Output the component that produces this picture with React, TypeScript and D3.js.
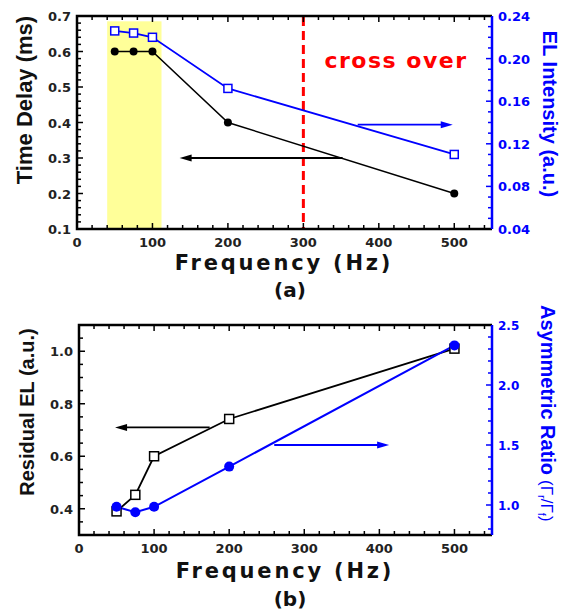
import React from "react";
import * as d3 from "d3";

// panel (a)
const freqA = [50, 75, 100, 200, 500];
const timeDelay = [0.6, 0.6, 0.6, 0.4, 0.2];
const elIntensity = [0.226, 0.224, 0.22, 0.172, 0.11];

// panel (b)
const freqB = [50, 75, 100, 200, 500];
const residualEL = [0.39, 0.453, 0.6, 0.742, 1.01];
const asymRatio = [0.985, 0.94, 0.985, 1.32, 2.33];

const xTicks = [0, 100, 200, 300, 400, 500];
const aLeftTicks = [0.1, 0.2, 0.3, 0.4, 0.5, 0.6, 0.7];
const aRightTicks = [0.04, 0.08, 0.12, 0.16, 0.2, 0.24];
const bLeftTicks = [0.4, 0.6, 0.8, 1.0];
const bRightTicks = [1.0, 1.5, 2.0, 2.5];

const BLUE = "#0000ff";
const tickFont = "'DejaVu Sans', Verdana, sans-serif";
const titleFont = "'Liberation Sans', Arial, sans-serif";

const range = (a: number, b: number, s: number) => d3.range(a, b + s / 2, s);

const Frame = ({ x, yL, yR, minorX, minorL, minorR, leftTicks, rightTicks, leftFmt, rightFmt, rightSize }) => {
  const [x0, x1] = x.range();
  const [yb, yt] = yL.range();
  return (
    <g>
      {/* x ticks on bottom and top, pointing in */}
      {minorX.map((t, i) => {
        const major = Math.abs(t % 100) < 1e-6;
        const len = major ? 6 : 4;
        return (
          <g key={i}>
            <line x1={x(t)} x2={x(t)} y1={yb} y2={yb - len} stroke="black" strokeWidth={1.5} />
            <line x1={x(t)} x2={x(t)} y1={yt} y2={yt + len} stroke="black" strokeWidth={1.5} />
          </g>
        );
      })}
      {minorL.map((t, i) => {
        const major = leftTicks.some(v => Math.abs(v - t) < 1e-6);
        return <line key={i} x1={x0} x2={x0 + (major ? 6 : 4)} y1={yL(t)} y2={yL(t)} stroke="black" strokeWidth={1.5} />;
      })}
      {minorR.map((t, i) => {
        const major = rightTicks.some(v => Math.abs(v - t) < 1e-6);
        return <line key={i} x1={x1} x2={x1 - (major ? 6 : 4)} y1={yR(t)} y2={yR(t)} stroke={BLUE} strokeWidth={1.5} />;
      })}
      <path d={`M${x1},${yt}H${x0}V${yb}H${x1}`} fill="none" stroke="black" strokeWidth={2.5} />
      <line x1={x1} x2={x1} y1={yt} y2={yb} stroke={BLUE} strokeWidth={2.5} />
      {xTicks.map((t, i) => (
        <text key={i} x={x(t)} y={yb + 18} textAnchor="middle" fontFamily={tickFont} fontWeight="bold" fontSize={13} fill="#222">
          {t}
        </text>
      ))}
      {leftTicks.map((t, i) => (
        <text key={i} x={x0 - 6} y={yL(t) + 5} textAnchor="end" fontFamily={tickFont} fontWeight="bold" fontSize={13} fill="#222">
          {leftFmt(t)}
        </text>
      ))}
      {rightTicks.map((t, i) => (
        <text key={i} x={x1 + 6} y={yR(t) + 5} fontFamily={tickFont} fontWeight="bold" fontSize={rightSize} fill={BLUE}>
          {rightFmt(t)}
        </text>
      ))}
    </g>
  );
};

const Arrow = ({ x1, x2, y, color }) => {
  const dir = x2 > x1 ? 1 : -1;
  return (
    <g>
      <line x1={x1} x2={x2 - dir * 8} y1={y} y2={y} stroke={color} strokeWidth={1.8} />
      <path d={`M${x2},${y}L${x2 - dir * 12},${y - 3.5}L${x2 - dir * 12},${y + 3.5}Z`} fill={color} />
    </g>
  );
};

const App = () => {
  // panel (a)
  const xa = d3.scaleLinear().domain([0, 550]).range([77, 492]);
  const yaL = d3.scaleLinear().domain([0.1, 0.7]).range([229, 16]);
  const yaR = d3.scaleLinear().domain([0.04, 0.24]).range([229, 16]);
  const lineTD = d3.line<number>().x((d, i) => xa(freqA[i])).y(d => yaL(d));
  const lineEL = d3.line<number>().x((d, i) => xa(freqA[i])).y(d => yaR(d));

  // panel (b)
  const xb = d3.scaleLinear().domain([0, 550]).range([79, 492]);
  const ybL = d3.scaleLinear().domain([0.3, 1.1]).range([535, 325]);
  const ybR = d3.scaleLinear().domain([0.75, 2.5]).range([535, 325]);
  const lineRes = d3.line<number>().x((d, i) => xb(freqB[i])).y(d => ybL(d));
  const lineAsym = d3.line<number>().x((d, i) => xb(freqB[i])).y(d => ybR(d));

  const xMinor = range(0, 540, 20);

  return (
    <svg width={565} height={611} viewBox="0 0 565 611" style={{ position: "absolute", left: 0, top: 0, background: "white" }}>
      {/* ---------- (a) ---------- */}
      <rect x={xa(40)} y={yaL(0.685)} width={xa(112) - xa(40)} height={yaL(0.1) - yaL(0.685)} fill="#ffff99" />
      <line x1={xa(300)} x2={xa(300)} y1={17} y2={228} stroke="#ff0000" strokeWidth={3} strokeDasharray="9,5" />
      <text x={396} y={68} textAnchor="middle" fontFamily={tickFont} fontWeight="bold" fontSize={22} letterSpacing={1.5} fill="#ff0000">
        cross over
      </text>
      <path d={lineTD(timeDelay)} fill="none" stroke="black" strokeWidth={1.5} />
      <path d={lineEL(elIntensity)} fill="none" stroke={BLUE} strokeWidth={1.8} />
      {timeDelay.map((d, i) => (
        <circle key={i} cx={xa(freqA[i])} cy={yaL(d)} r={4} fill="black" />
      ))}
      {elIntensity.map((d, i) => (
        <rect key={i} x={xa(freqA[i]) - 4} y={yaR(d) - 4} width={8} height={8} fill="white" stroke={BLUE} strokeWidth={1.5} />
      ))}
      <Arrow x1={xa(352)} x2={xa(136)} y={yaL(0.3)} color="black" />
      <Arrow x1={xa(372)} x2={xa(498)} y={yaR(0.138)} color={BLUE} />
      <Frame
        x={xa} yL={yaL} yR={yaR}
        minorX={xMinor}
        minorL={range(0.1, 0.7, 0.02)}
        minorR={range(0.04, 0.24, 0.01)}
        leftTicks={aLeftTicks} rightTicks={aRightTicks}
        leftFmt={d3.format(".1f")} rightFmt={d3.format(".2f")}
        rightSize={13}
      />
      <text transform="translate(32,100) rotate(-90)" textAnchor="middle" fontFamily={titleFont} fontWeight="bold" fontSize={22} fill="#111">
        Time Delay (ms)
      </text>
      <text transform="translate(543,114) rotate(90)" textAnchor="middle" fontFamily={titleFont} fontWeight="bold" fontSize={20} fill={BLUE}>
        EL Intensity (a.u.)
      </text>
      <text x={284} y={270} textAnchor="middle" fontFamily={tickFont} fontWeight="bold" fontSize={21} letterSpacing={2.8} fill="#111">
        Frequency (Hz)
      </text>
      <text x={290} y={297} textAnchor="middle" fontFamily={tickFont} fontWeight="bold" fontSize={20} fill="#111">
        (a)
      </text>

      {/* ---------- (b) ---------- */}
      <path d={lineRes(residualEL)} fill="none" stroke="black" strokeWidth={1.8} />
      <path d={lineAsym(asymRatio)} fill="none" stroke={BLUE} strokeWidth={2} />
      {residualEL.map((d, i) => (
        <rect key={i} x={xb(freqB[i]) - 4.5} y={ybL(d) - 4.5} width={9} height={9} fill="white" stroke="black" strokeWidth={1.5} />
      ))}
      {asymRatio.map((d, i) => (
        <circle key={i} cx={xb(freqB[i])} cy={ybR(d)} r={5} fill={BLUE} />
      ))}
      <Arrow x1={xb(174)} x2={xb(48)} y={ybL(0.71)} color="black" />
      <Arrow x1={xb(260)} x2={xb(413)} y={ybR(1.5)} color={BLUE} />
      <Frame
        x={xb} yL={ybL} yR={ybR}
        minorX={xMinor}
        minorL={range(0.3, 1.1, 0.05)}
        minorR={range(0.8, 2.5, 0.1)}
        leftTicks={bLeftTicks} rightTicks={bRightTicks}
        leftFmt={d3.format(".1f")} rightFmt={d3.format(".1f")}
        rightSize={12}
      />
      <text transform="translate(34,412) rotate(-90)" textAnchor="middle" fontFamily={titleFont} fontWeight="bold" fontSize={20} fill="#111">
        Residual EL (a.u.)
      </text>
      <text transform="translate(541,305) rotate(90)" fontFamily={titleFont} fontWeight="bold" fontSize={20} fill={BLUE}>
        Asymmetric Ratio
        <tspan fontWeight="normal" fontSize={17} dx={5}>(Γ</tspan>
        <tspan fontWeight="normal" fontSize={11} dy={3}>r</tspan>
        <tspan fontWeight="normal" fontSize={17} dy={-3}>/Γ</tspan>
        <tspan fontWeight="normal" fontSize={11} dy={3}>f</tspan>
        <tspan fontWeight="normal" fontSize={17} dy={-3}>)</tspan>
      </text>
      <text x={285} y={578} textAnchor="middle" fontFamily={tickFont} fontWeight="bold" fontSize={21} letterSpacing={2.8} fill="#111">
        Frequency (Hz)
      </text>
      <text x={290} y={606} textAnchor="middle" fontFamily={tickFont} fontWeight="bold" fontSize={20} fill="#111">
        (b)
      </text>
    </svg>
  );
};

export default App;
